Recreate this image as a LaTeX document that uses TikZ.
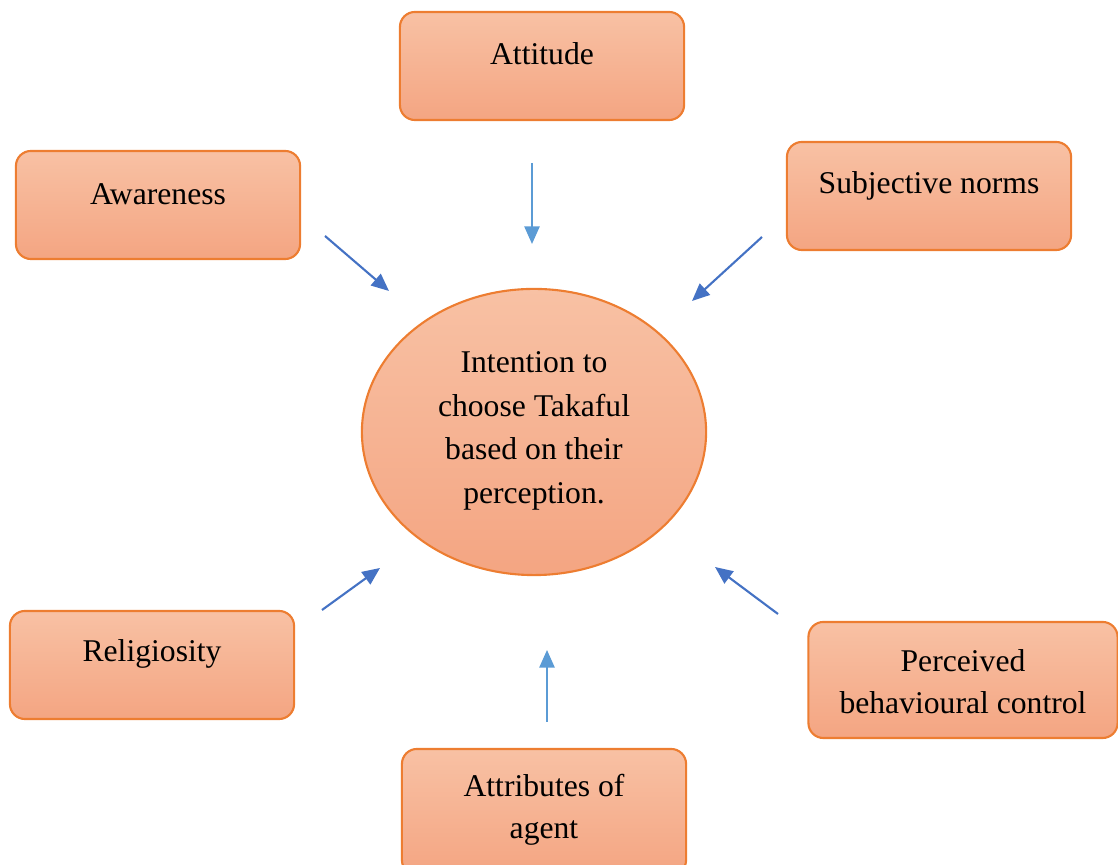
\documentclass[tikz,border=0pt]{standalone}
\usepackage{fontspec}
\setmainfont{Liberation Serif}
\usetikzlibrary{shapes.geometric,arrows.meta}
\definecolor{boxline}{HTML}{ED7D31}
\definecolor{boxtop}{HTML}{F8C1A4}
\definecolor{boxbot}{HTML}{F4A582}
\definecolor{arrdark}{HTML}{4472C4}
\definecolor{arrlight}{HTML}{5B9BD5}
\tikzset{
  factor/.style={draw=boxline,line width=0.6pt,rounded corners=0.15cm,top color=boxtop,bottom color=boxbot,minimum width=2.84cm,minimum height=1.08cm},
  txt/.style={font=\fontsize{9}{11.9}\selectfont,align=center,inner sep=0pt},
  arr/.style={-{Triangle[length=5pt,width=4.3pt]},line width=0.6pt},
}
\begin{document}
\begin{tikzpicture}[x=0.01cm,y=-0.01cm]
            \useasboundingbox (0,0) rectangle (1118,865);
            \draw (534,432) node[ellipse,draw=boxline,line width=0.6pt,top color=boxtop,bottom color=boxbot,minimum width=3.44cm,minimum height=2.86cm] (intent) {} +(0,-1) node[txt,font=\fontsize{9}{12.4}\selectfont] (intent-t) {Intention to\\choose Takaful\\based on their\\perception.};
            \draw (542,66) node[factor] (attitude) {} +(0,-12) node[txt] (attitude-t) {Attitude};
            \draw (158,205) node[factor] (awareness) {} +(0,-11) node[txt] (awareness-t) {Awareness};
            \draw (929,196) node[factor] (norms) {} +(0,-10) node[txt] (norms-t) {Subjective norms};
            \draw (152,665) node[factor] (relig) {} +(0,-11) node[txt] (relig-t) {Religiosity};
            \draw (963,680) node[factor,minimum width=3.09cm,minimum height=1.16cm] (pbc) {} +(0,2) node[txt] (pbc-t) {Perceived\\behavioural control};
            \draw (544,812) node[factor,minimum height=1.26cm] (agent) {} +(0,-2) node[txt] (agent-t) {Attributes of\\agent};

            % arrow ends (arrows do not touch the shapes)
            \coordinate (aw-a) at (325,236);  \coordinate (aw-b) at (389,291);
            \coordinate (at-a) at (532,163);  \coordinate (at-b) at (532,244);
            \coordinate (sn-a) at (762,237);  \coordinate (sn-b) at (692,301);
            \coordinate (re-a) at (322,610);  \coordinate (re-b) at (380,568);
            \coordinate (ag-a) at (547,722);  \coordinate (ag-b) at (547,650);
            \coordinate (pb-a) at (778,614);  \coordinate (pb-b) at (715,567);

            \draw[arr,arrdark] (aw-a) -- (aw-b);
            \draw[arr,arrlight] (at-a) -- (at-b);
            \draw[arr,arrdark] (sn-a) -- (sn-b);
            \draw[arr,arrdark] (re-a) -- (re-b);
            \draw[arr,arrlight] (ag-a) -- (ag-b);
            \draw[arr,arrdark] (pb-a) -- (pb-b);
\end{tikzpicture}
\end{document}
